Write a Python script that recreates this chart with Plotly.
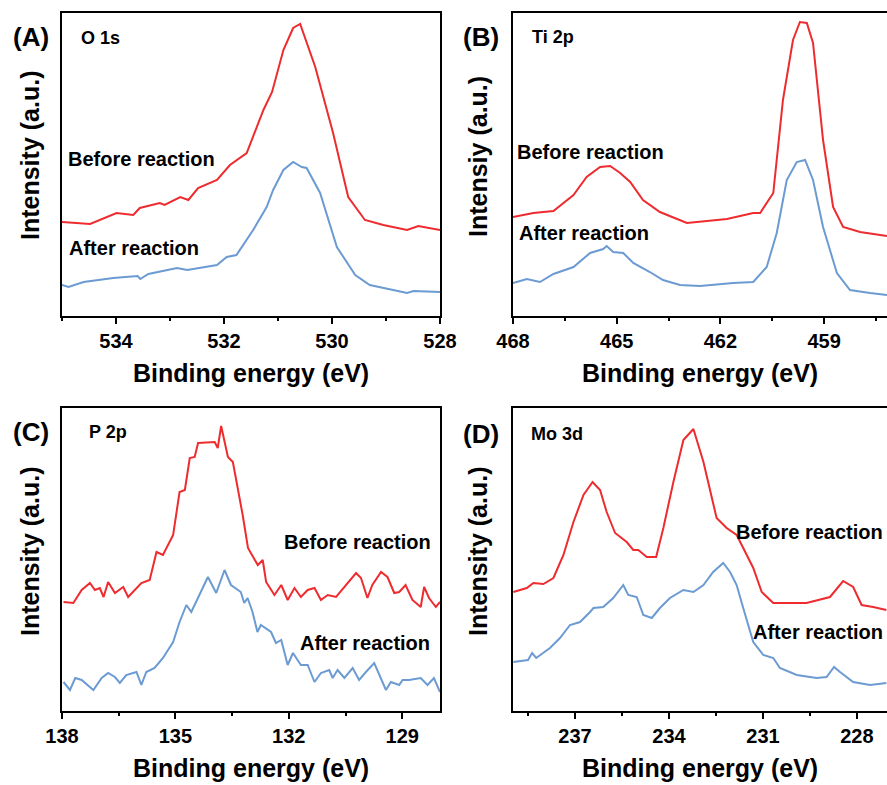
import plotly.graph_objects as go

# ---------------- data (binding energy in eV, intensity in arbitrary units) -------------
# Panel A: O 1s
o1s_before_e = [535.0, 534.48, 533.99, 533.68, 533.56, 533.19, 533.1, 532.81, 532.66, 532.48,
                532.13, 531.89, 531.58, 531.46, 531.27, 531.11, 530.9, 530.72, 530.59, 530.31,
                529.98, 529.7, 529.39, 529.05, 528.61, 528.4, 528.0]
o1s_before_i = [94, 92, 103, 101, 108, 113, 111, 119, 116, 128,
                136, 151, 163, 179, 206, 224, 266, 288, 292, 249,
                183, 119, 96, 91, 86, 90, 86]
o1s_after_e = [535.0, 534.88, 534.6, 534.05, 533.6, 533.55, 533.4, 532.87, 532.68, 532.13,
               531.95, 531.77, 531.46, 531.21, 531.09, 530.9, 530.72, 530.56, 530.47, 530.22,
               529.91, 529.57, 529.3, 528.98, 528.61, 528.49, 528.0]
o1s_after_i = [31, 29, 34, 38, 40, 37, 42, 48, 46, 51,
               59, 61, 86, 109, 126, 146, 154, 149, 148, 123,
               69, 41, 31, 27, 23, 25, 24]

# Panel B: Ti 2p
ti_before_e = [468.0, 467.41, 466.83, 466.25, 465.87, 465.48, 465.19, 464.9, 464.61, 464.24,
               463.75, 463.37, 462.97, 462.39, 461.81, 461.05, 460.85, 460.47, 460.19, 459.9,
               459.7, 459.5, 459.32, 459.03, 458.74, 458.45, 457.96, 457.18]
ti_before_i = [99, 103, 105, 121, 139, 149, 150, 143, 134, 116,
               104, 99, 93, 95, 97, 103, 103, 123, 216, 276,
               294, 293, 273, 176, 109, 89, 84, 80]
ti_after_e = [468.0, 467.6, 467.22, 466.83, 466.25, 465.77, 465.39, 465.29, 465.1, 464.81,
              464.52, 464.04, 463.66, 463.17, 462.59, 461.63, 461.05, 460.66, 460.37, 460.08,
              459.79, 459.55, 459.32, 459.03, 458.63, 458.25, 457.67, 457.18]
ti_after_i = [33, 37, 34, 42, 49, 63, 67, 70, 64, 63,
              53, 44, 36, 31, 30, 33, 34, 49, 83, 136,
              154, 156, 136, 89, 43, 26, 23, 21]

# Panel C: P 2p
p_before_e = [137.96, 137.7, 137.48, 137.26, 137.13, 137.0, 136.9, 136.78, 136.6, 136.38,
              136.25, 136.03, 135.9, 135.68, 135.5, 135.33, 135.06, 134.89, 134.75, 134.62,
              134.49, 134.4, 133.96, 133.88, 133.79, 133.61, 133.48, 133.22, 133.08, 132.82,
              132.69, 132.6, 132.38, 132.2, 132.03, 131.85, 131.68, 131.5, 131.32, 131.15,
              130.97, 130.75, 130.45, 130.22, 130.09, 129.92, 129.79, 129.56, 129.39, 129.21,
              129.08, 128.91, 128.73, 128.51, 128.42, 128.29, 128.11, 128.0]
p_before_i = [109, 108, 121, 128, 121, 123, 114, 129, 118, 124,
              114, 123, 128, 131, 159, 156, 176, 219, 221, 253,
              254, 268, 269, 263, 285, 254, 249, 196, 163, 146,
              151, 129, 116, 126, 111, 123, 114, 121, 123, 111,
              116, 114, 128, 138, 133, 113, 126, 139, 134, 118,
              119, 126, 111, 104, 124, 113, 104, 109]
p_after_e = [137.96, 137.79, 137.65, 137.48, 137.17, 136.95, 136.78, 136.6, 136.47, 136.3,
             136.03, 135.9, 135.77, 135.55, 135.33, 135.06, 134.89, 134.71, 134.58, 134.36,
             134.14, 133.92, 133.7, 133.53, 133.27, 133.18, 133.09, 132.96, 132.83, 132.74,
             132.47, 132.34, 132.2, 132.03, 131.89, 131.68, 131.5, 131.32, 131.15, 130.93,
             130.84, 130.71, 130.53, 130.31, 130.14, 129.96, 129.74, 129.43, 129.3, 129.08,
             128.99, 128.82, 128.51, 128.33, 128.16, 128.0]
p_after_i = [29, 21, 33, 31, 21, 33, 38, 34, 28, 36,
             39, 26, 39, 43, 53, 69, 89, 106, 99, 116,
             134, 118, 141, 126, 119, 108, 113, 99, 79, 86,
             79, 68, 71, 46, 58, 46, 46, 29, 38, 41,
             33, 41, 33, 43, 31, 39, 48, 21, 29, 26,
             31, 31, 33, 26, 33, 19]

# Panel D: Mo 3d
mo_before_e = [238.97, 238.54, 238.33, 238.01, 237.69, 237.37, 237.05, 236.73, 236.44, 236.2,
               235.99, 235.72, 235.35, 235.14, 234.98, 234.71, 234.41, 234.18, 233.86, 233.54,
               233.22, 232.9, 232.69, 232.48, 232.16, 231.84, 231.63, 231.31, 231.04, 230.67,
               230.25, 229.61, 228.86, 228.44, 228.12, 227.85, 227.48, 227.06]
mo_before_i = [119, 123, 128, 127, 133, 156, 189, 216, 229, 221,
               199, 178, 169, 161, 161, 154, 154, 183, 229, 271,
               282, 249, 221, 193, 183, 176, 163, 143, 119, 108,
               108, 108, 114, 130, 124, 106, 104, 101]
mo_after_e = [238.97, 238.5, 238.37, 238.24, 237.8, 237.48, 237.16, 236.84, 236.52, 236.41,
              236.1, 235.78, 235.46, 235.3, 235.03, 234.82, 234.55, 234.29, 233.97, 233.54,
              233.22, 232.9, 232.59, 232.27, 232.05, 231.84, 231.63, 231.31, 230.99, 230.67,
              230.46, 229.92, 229.29, 228.97, 228.73, 228.54, 228.12, 227.58, 227.06]
mo_after_i = [49, 51, 58, 53, 63, 73, 86, 89, 99, 103,
              104, 113, 126, 116, 114, 96, 93, 103, 113, 121,
              119, 126, 139, 148, 139, 126, 103, 69, 56, 53,
              43, 36, 33, 34, 44, 39, 29, 26, 28]

panel_labels = ["(A)", "(B)", "(C)", "(D)"]
core_levels = ["O 1s", "Ti 2p", "P 2p", "Mo 3d"]
y_titles = ["Intensity (a.u.)", "Intensiy (a.u.)", "Intensity (a.u.)", "Intensity (a.u.)"]
x_title = "Binding energy (eV)"
series_names = ["Before reaction", "After reaction"]
x_ranges = [[535, 528], [468, 457.18], [138, 128], [238.98, 227.04]]
x_dticks = [2, 3, 3, 3]

# ---------------- layout helpers ----------------
W, H = 887, 785
RED = "#ee2b2e"
BLUE = "#6b9bd2"
FONT = "Liberation Sans, Arial, sans-serif"


def px(x):
    return x / W


def py(y):
    return 1 - y / H


# plot boxes in pixels: (left, top, right, bottom)
boxes = [(62, 13, 440, 316), (513, 13, 887, 316), (62, 408, 440, 711), (513, 408, 887, 711)]

data = [
    (o1s_before_e, o1s_before_i, o1s_after_e, o1s_after_i),
    (ti_before_e, ti_before_i, ti_after_e, ti_after_i),
    (p_before_e, p_before_i, p_after_e, p_after_i),
    (mo_before_e, mo_before_i, mo_after_e, mo_after_i),
]

fig = go.Figure()
for k, (be, bi, ae, ai) in enumerate(data):
    xa = "x" if k == 0 else f"x{k+1}"
    ya = "y" if k == 0 else f"y{k+1}"
    fig.add_trace(go.Scatter(x=be, y=bi, mode="lines", name=series_names[0],
                             line=dict(color=RED, width=2), xaxis=xa, yaxis=ya,
                             showlegend=False))
    fig.add_trace(go.Scatter(x=ae, y=ai, mode="lines", name=series_names[1],
                             line=dict(color=BLUE, width=2), xaxis=xa, yaxis=ya,
                             showlegend=False))

layout = dict(width=W, height=H, margin=dict(l=0, r=0, t=0, b=0, autoexpand=False),
              paper_bgcolor="white", plot_bgcolor="white", showlegend=False,
              font=dict(family=FONT, color="black"))

for k, (l, t, r, b) in enumerate(boxes):
    xkey = "xaxis" if k == 0 else f"xaxis{k+1}"
    ykey = "yaxis" if k == 0 else f"yaxis{k+1}"
    yanchor = "y" if k == 0 else f"y{k+1}"
    xanchor = "x" if k == 0 else f"x{k+1}"
    full_box = r < W
    layout[xkey] = dict(domain=[px(l), px(r)], range=x_ranges[k], anchor=yanchor,
                        showline=True, linecolor="black", linewidth=2, mirror=True,
                        ticks="outside", ticklen=6, tickwidth=2, tickcolor="black",
                        dtick=x_dticks[k], tick0=0, showgrid=False, zeroline=False,
                        automargin=False,
                        tickfont=dict(family=FONT, size=20, color="black", weight="bold"),
                        minor=dict(dtick=x_dticks[k] / 2, tick0=0, ticks="outside",
                                   ticklen=3, tickwidth=2, tickcolor="black", showgrid=False))
    layout[ykey] = dict(domain=[py(b), py(t)], range=[0, 303], anchor=xanchor,
                        showline=True, linecolor="black", linewidth=2,
                        mirror=True if full_box else False, automargin=False,
                        showticklabels=False, ticks="", showgrid=False, zeroline=False)

fig.update_layout(**layout)

ann = []


def add_text(text, x, y, size, xanchor="center", yanchor="middle", angle=0):
    ann.append(dict(text=text, x=px(x), y=py(y), xref="paper", yref="paper",
                    xanchor=xanchor, yanchor=yanchor, showarrow=False, textangle=angle,
                    font=dict(family=FONT, size=size, color="black", weight="bold")))


# panel letters and core-level labels
add_text(panel_labels[0], 31, 37, 26)
add_text(core_levels[0], 79, 38, 18, xanchor="left")
add_text(panel_labels[1], 481, 37, 26)
add_text(core_levels[1], 530, 37, 18, xanchor="left")
add_text(panel_labels[2], 31, 432, 26)
add_text(core_levels[2], 87, 432, 18, xanchor="left")
add_text(panel_labels[3], 481, 434, 26)
add_text(core_levels[3], 529, 434, 18, xanchor="left")

# y titles
add_text(y_titles[0], 30, 156, 25, angle=-90)
add_text(y_titles[1], 478, 157, 25, angle=-90)
add_text(y_titles[2], 30, 552, 25, angle=-90)
add_text(y_titles[3], 478, 552, 25, angle=-90)

# x titles
add_text(x_title, 251, 373, 25)
add_text(x_title, 700, 373, 25)
add_text(x_title, 251, 768, 25)
add_text(x_title, 700, 768, 25)

# series labels
add_text(series_names[0], 66, 159, 20, xanchor="left")
add_text(series_names[1], 67, 248, 20, xanchor="left")
add_text(series_names[0], 515, 152, 20, xanchor="left")
add_text(series_names[1], 517, 233, 20, xanchor="left")
add_text(series_names[0], 282, 542, 20, xanchor="left")
add_text(series_names[1], 298, 643, 20, xanchor="left")
add_text(series_names[0], 885, 532, 20, xanchor="right")
add_text(series_names[1], 885, 632, 20, xanchor="right")

fig.update_layout(annotations=ann)

fig.write_html("out.html")
